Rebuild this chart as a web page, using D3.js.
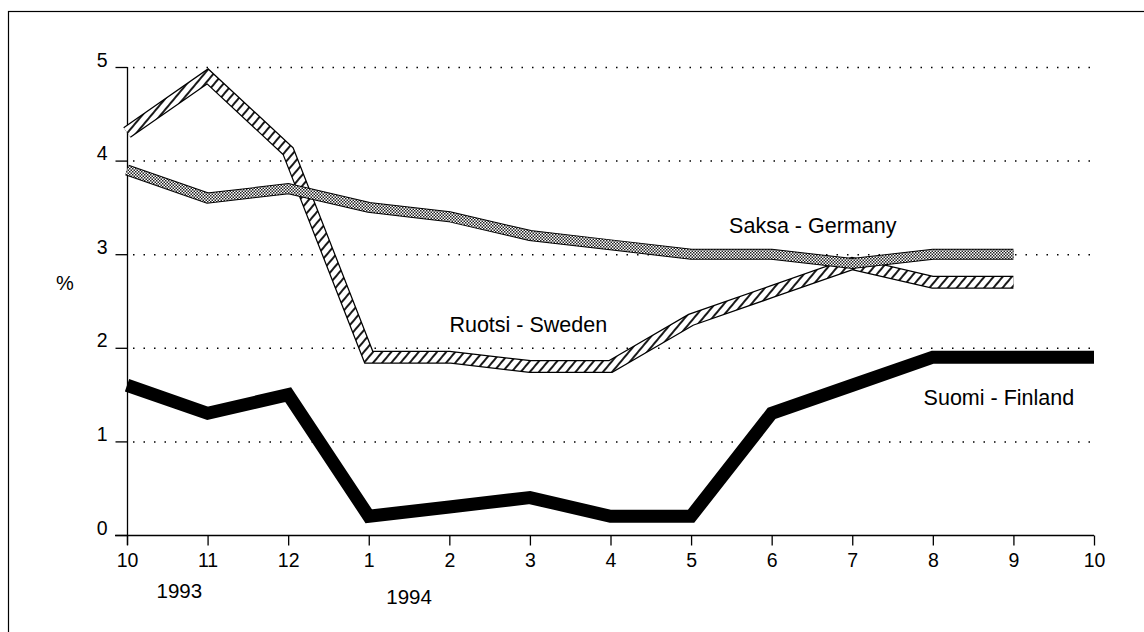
<!DOCTYPE html>
<html>
<head>
<meta charset="utf-8">
<script src="https://cdn.jsdelivr.net/npm/d3@7"></script>
<style>
  body { margin: 0; background: #fff; }
  svg text { font-family: 'Liberation Sans', Arial, Helvetica, sans-serif; fill: #000; }
</style>
</head>
<body>
<div id="chart"></div>
<script>
// Month ticks, Oct 1993 .. Oct 1994
var months = ['10', '11', '12', '1', '2', '3', '4', '5', '6', '7', '8', '9', '10']
var years = ['1993', '1994']
var yTicks = [0, 1, 2, 3, 4, 5]

// Inflation, %
var finland = [1.6, 1.3, 1.5, 0.2, 0.3, 0.4, 0.2, 0.2, 1.3, 1.6, 1.9, 1.9, 1.9]
var sweden = [4.3, 4.9, 4.1, 1.9, 1.9, 1.8, 1.8, 2.3, 2.6, 2.9, 2.7, 2.7]
var germany = [3.9, 3.6, 3.7, 3.5, 3.4, 3.2, 3.1, 3.0, 3.0, 2.9, 3.0, 3.0]

var seriesNames = ['Suomi - Finland', 'Ruotsi - Sweden', 'Saksa - Germany']

var width = 1144
var height = 632

var svg = d3.select('#chart')
  .append('svg')
  .attr('width', width)
  .attr('height', height)

var defs = svg.append('defs')

// diagonal hatch for Sweden
var hatch = defs.append('pattern')
  .attr('id', 'hatch')
  .attr('patternUnits', 'userSpaceOnUse')
  .attr('width', 7)
  .attr('height', 7)
  .attr('patternTransform', 'rotate(40)')
hatch.append('rect').attr('width', 7).attr('height', 7).attr('fill', '#fff')
hatch.append('line')
  .attr('x1', 1).attr('y1', 0).attr('x2', 1).attr('y2', 7)
  .attr('stroke', '#000')
  .attr('stroke-width', 1.8)

// fine checker for Germany
var check = defs.append('pattern')
  .attr('id', 'check')
  .attr('patternUnits', 'userSpaceOnUse')
  .attr('width', 3)
  .attr('height', 3)
check.append('rect').attr('width', 3).attr('height', 3).attr('fill', '#fff')
check.append('rect').attr('width', 1.5).attr('height', 1.5).attr('fill', '#222')
check.append('rect').attr('x', 1.5).attr('y', 1.5).attr('width', 1.5).attr('height', 1.5).attr('fill', '#222')

// outer frame (top and left edges visible)
svg.append('rect')
  .attr('x', 8.5)
  .attr('y', 11.5)
  .attr('width', 1200)
  .attr('height', 700)
  .attr('fill', 'none')
  .attr('stroke', '#000')
  .attr('stroke-width', 1.2)

var x = d3.scaleLinear()
  .domain([0, months.length - 1])
  .range([127, 1094])

var y = d3.scaleLinear()
  .domain([0, 5])
  .range([535, 67])

// dotted grid
svg.selectAll('.grid')
  .data(yTicks.slice(1))
  .enter()
  .append('line')
  .attr('x1', x(0) + 6)
  .attr('x2', 1098)
  .attr('y1', function (d) { return y(d) + 0.5 })
  .attr('y2', function (d) { return y(d) + 0.5 })
  .attr('stroke', '#000')
  .attr('stroke-width', 1.5)
  .attr('stroke-dasharray', '1.5,9')

// y axis
var yAxis = d3.axisLeft(y)
  .tickValues(yTicks)
  .tickSize(12)
  .tickPadding(8)
  .tickFormat(d3.format('d'))

svg.append('g')
  .attr('transform', 'translate(' + (x(0) + 0.5) + ',0)')
  .call(yAxis)
  .call(function (g) {
    g.select('.domain').attr('d', 'M0,' + y(5) + 'V' + (y(0) + 10))
    g.selectAll('text').attr('font-size', 19.5).attr('dy', '-0.05em')
  })

// x axis
var xAxis = d3.axisBottom(x)
  .tickValues(d3.range(months.length))
  .tickSize(10)
  .tickPadding(8)
  .tickFormat(function (d) { return months[d] })

svg.append('g')
  .attr('transform', 'translate(0,' + (y(0) + 0.5) + ')')
  .call(xAxis)
  .call(function (g) {
    g.select('.domain').attr('d', 'M' + (x(0) - 12) + ',0H' + x(12))
    g.selectAll('text').attr('font-size', 19.5)
  })

svg.selectAll('.domain, .tick line').attr('stroke', '#000').attr('stroke-width', 1.3)

// year labels under the month ticks
svg.selectAll('.year')
  .data(years)
  .enter()
  .append('text')
  .attr('x', function (d, i) { return i === 0 ? x(0.65) : x(3.5) })
  .attr('y', function (d, i) { return i === 0 ? 598 : 604 })
  .attr('text-anchor', 'middle')
  .attr('font-size', 20.5)
  .text(function (d) { return d })

svg.append('text')
  .attr('x', 65)
  .attr('y', 290)
  .attr('text-anchor', 'middle')
  .attr('font-size', 20)
  .text('%')

var line = d3.line()
  .x(function (d, i) { return x(i) })
  .y(function (d) { return y(d) })

// Finland: heavy black line
svg.append('path')
  .datum(finland)
  .attr('d', line)
  .attr('fill', 'none')
  .attr('stroke', '#000')
  .attr('stroke-width', 13)
  .attr('stroke-linejoin', 'miter')

// Sweden: outlined hatched band
svg.append('path')
  .datum(sweden)
  .attr('d', line)
  .attr('fill', 'none')
  .attr('stroke', '#000')
  .attr('stroke-width', 13)
svg.append('path')
  .datum(sweden)
  .attr('d', line)
  .attr('fill', 'none')
  .attr('stroke', 'url(#hatch)')
  .attr('stroke-width', 10.5)

// Germany: outlined checker band
svg.append('path')
  .datum(germany)
  .attr('d', line)
  .attr('fill', 'none')
  .attr('stroke', '#000')
  .attr('stroke-width', 11)
svg.append('path')
  .datum(germany)
  .attr('d', line)
  .attr('fill', 'none')
  .attr('stroke', 'url(#check)')
  .attr('stroke-width', 9)

// series labels
var labelPos = [[10.82, 1.47], [4.98, 2.25], [8.51, 3.31]]
svg.selectAll('.label')
  .data(seriesNames)
  .enter()
  .append('text')
  .attr('x', function (d, i) { return x(labelPos[i][0]) })
  .attr('y', function (d, i) { return y(labelPos[i][1]) + 7.5 })
  .attr('text-anchor', 'middle')
  .attr('font-size', 21.5)
  .text(function (d) { return d })
</script>
</body>
</html>
